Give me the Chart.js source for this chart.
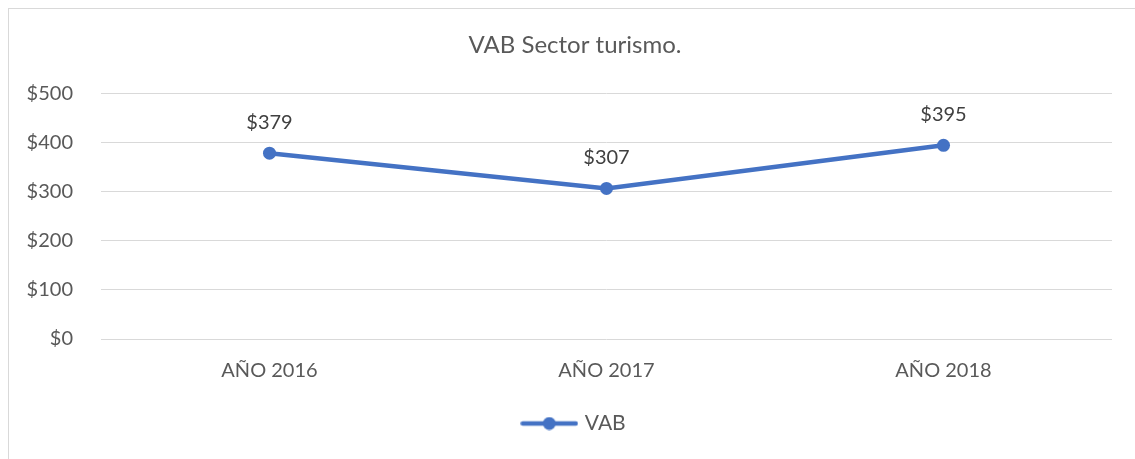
<!DOCTYPE html>
<html>
<head>
<meta charset="utf-8">
<script src="https://cdn.jsdelivr.net/npm/chart.js@4"></script>
<style>
  html, body { margin: 0; padding: 0; background: #fff; overflow: hidden; }
  #wrap { position: absolute; left: 0; top: 0; width: 1135px; height: 459px; overflow: hidden; }
  #frame { position: absolute; left: 8px; top: 8px; width: 1135px; height: 459px; border: 1px solid #d9d9d9; box-sizing: border-box; pointer-events: none; }
  canvas { position: absolute; left: 0; top: 0; }
</style>
</head>
<body>
<div id="wrap">
  <div id="frame"></div>
  <canvas id="c" width="1150" height="459"></canvas>
</div>
<script>
const categories = ['AÑO 2016', 'AÑO 2017', 'AÑO 2018'];
const vabValues = [379, 307, 395];
const yTicks = [0, 100, 200, 300, 400, 500];
const seriesName = 'VAB';

const FONT = 'Lato, "Open Sans", sans-serif';
const BLUE = '#4472C4';

// legend marker: line with dot
const marker = document.createElement('canvas');
marker.width = 58; marker.height = 14;
(function () {
  const g = marker.getContext('2d');
  g.strokeStyle = BLUE; g.lineWidth = 4.5; g.lineCap = 'round';
  g.beginPath(); g.moveTo(2.5, 7); g.lineTo(55.5, 7); g.stroke();
  g.fillStyle = BLUE; g.beginPath(); g.arc(29, 7, 6.5, 0, Math.PI * 2); g.fill();
})();

const dataLabels = {
  id: 'dataLabels',
  afterDatasetsDraw(chart) {
    const ctx = chart.ctx;
    const meta = chart.getDatasetMeta(0);
    ctx.save();
    ctx.font = '20px ' + FONT;
    ctx.fillStyle = '#404040';
    ctx.textAlign = 'center';
    ctx.textBaseline = 'middle';
    meta.data.forEach((pt, i) => {
      ctx.fillText('$' + chart.data.datasets[0].data[i], pt.x, pt.y - 31);
    });
    ctx.restore();
  }
};

new Chart(document.getElementById('c'), {
  type: 'line',
  data: {
    labels: categories,
    datasets: [{
      label: seriesName,
      data: vabValues,
      yAxisID: 'y',
      borderColor: BLUE,
      backgroundColor: BLUE,
      borderWidth: 4.5,
      pointRadius: 6.5,
      pointHoverRadius: 6.5,
      pointBackgroundColor: BLUE,
      pointBorderWidth: 0,
      tension: 0,
      pointStyle: 'circle'
    }]
  },
  options: {
    responsive: false,
    animation: false,
    layout: { padding: { left: 0, right: 0, top: 0, bottom: 15 } },
    plugins: {
      title: {
        display: true,
        text: 'VAB Sector turismo.',
        color: '#595959',
        font: { family: FONT, size: 24, weight: 'normal' },
        padding: { top: 31, bottom: 34 }
      },
      legend: {
        display: true,
        position: 'bottom',
        labels: {
          color: '#595959',
          font: { family: FONT, size: 21 },
          usePointStyle: true,
          pointStyleWidth: 50,
          pointStyle: marker,
          padding: 10
        }
      },
      tooltip: { enabled: false }
    },
    scales: {
      x: {
        offset: true,
        grid: { display: false, drawTicks: false },
        border: { display: false },
        ticks: { color: '#595959', font: { family: FONT, size: 20 }, padding: 20 }
      },
      y: {
        position: 'left',
        min: 0, max: 500,
        afterFit(scale) { scale.width = 101; },
        afterBuildTicks(scale) { scale.ticks = yTicks.map(v => ({ value: v })); },
        grid: { color: '#d9d9d9', lineWidth: 1, drawTicks: false },
        border: { display: false },
        ticks: {
          color: '#595959',
          font: { family: FONT, size: 20 },
          padding: 28,
          callback: v => '$' + v
        }
      },
      ySpacer: {
        position: 'right',
        min: 0, max: 500,
        afterFit(scale) { scale.width = 38; },
        grid: { display: false, drawTicks: false },
        border: { display: false },
        ticks: { display: false }
      }
    }
  },
  plugins: [dataLabels]
});
</script>
</body>
</html>
